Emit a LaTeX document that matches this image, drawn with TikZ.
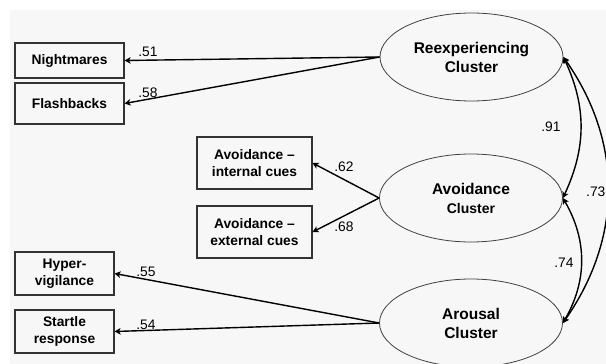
\documentclass[tikz,border=0pt]{standalone}
\usepackage{fontspec}
\setmainfont{Liberation Sans}
\usetikzlibrary{shapes.geometric,arrows.meta}
\begin{document}
\begin{tikzpicture}[x=1pt,y=-1pt,
  box/.style={draw=black!80,line width=1.1pt,inner sep=0pt,align=center,font=\fontsize{13.8}{17}\selectfont\bfseries},
  clus/.style={ellipse,draw=black!75,line width=0.8pt,minimum width=183pt,minimum height=88pt,inner sep=0pt,align=center,font=\fontsize{15.5}{19}\selectfont\bfseries},
  ld/.style={line width=1.4pt,-{Stealth[length=6pt,width=6.5pt,inset=1.5pt]}},
  dbl/.style={line width=1.4pt,{Stealth[length=6pt,width=6.5pt,inset=1.5pt]}-{Stealth[length=6pt,width=6.5pt,inset=1.5pt]}},
  lbl/.style={inner sep=0pt,font=\fontsize{13.8}{16}\selectfont}
]
\useasboundingbox (0,0) rectangle (606,364);
\fill[white] (0,0) rectangle (606,364);
\fill[black!3] (10,10) rectangle (606,364);

% indicators
\node[box,minimum width=109pt,minimum height=35pt] (N) at (69.5,60.5) {Nightmares};
\node[box,minimum width=109pt,minimum height=41pt] (F) at (69.5,103.5) {Flashbacks};
\node[box,minimum width=115pt,minimum height=52pt] (AI) at (254.5,163) {Avoidance –\\internal cues};
\node[box,minimum width=115pt,minimum height=52pt] (AE) at (254.5,232) {Avoidance –\\external cues};
\node[box,minimum width=99pt,minimum height=43pt] (H) at (64.5,273.5) {Hyper-\\vigilance};
\node[box,minimum width=99pt,minimum height=43pt] (S) at (64.5,331.5) {Startle\\response};

% latent clusters
\node[clus] (R) at (471.5,57) {Reexperiencing\\Cluster};
\node[clus] (A) at (471,198) {Avoidance\\{\fontsize{14}{19}\selectfont Cluster}};
\node[clus] (Ar) at (471,323) {Arousal\\Cluster};

% loadings
\draw[ld] (R.west) -- (N.east);
\draw[ld] (R.west) -- (F.east);
\draw[ld] (A.west) -- (AI.east);
\draw[ld] (A.west) -- (AE.east);
\draw[ld] (Ar.west) -- (H.east);
\draw[ld] (Ar.west) -- (S.east);

% correlations
\draw[dbl] (R.east) to[out=-65,in=65] (A.east);
\draw[dbl] (A.east) to[out=-60,in=60] (Ar.east);
\draw[dbl] (R.east) to[out=-55,in=55] (Ar.east);

% labels
\node[lbl] (l51) at (148,52) {.51};
\node[lbl] (l58) at (148,93) {.58};
\node[lbl] (l62) at (344,167) {.62};
\node[lbl] (l68) at (344,227) {.68};
\node[lbl] (l55) at (146,272) {.55};
\node[lbl] (l54) at (146,325) {.54};
\node[lbl] (l91) at (551,127) {.91};
\node[lbl] (l74) at (564,263) {.74};
\node[lbl,anchor=west] (l73) at (586,192) {.73};
\end{tikzpicture}
\end{document}
